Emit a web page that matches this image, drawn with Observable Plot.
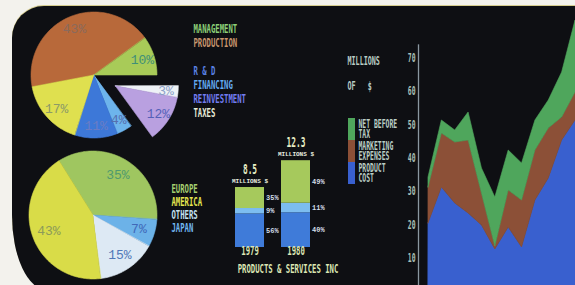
<!DOCTYPE html>
<html>
<head>
<meta charset="utf-8">
<script src="https://cdn.jsdelivr.net/npm/d3@7"></script>
<script src="https://cdn.jsdelivr.net/npm/@observablehq/plot@0.6"></script>
<style>
  html, body { margin: 0; padding: 0; width: 575px; height: 285px; overflow: hidden; background: #f3f2ed; }
  #screen { position: absolute; left: 12px; top: 6px; width: 700px; height: 284px; background: #0e0f13;
            border-radius: 32px 0 0 35px / 32px 0 0 75px; box-shadow: 0 -1px 0 #d6cd8e; }
  .panel { position: absolute; }
  .panel svg { overflow: visible; background: transparent !important; }
</style>
</head>
<body>
<div id="screen"></div>
<div class="panel" id="pieTop" style="left:20px;top:8px"></div>
<div class="panel" id="legendTop" style="left:193px;top:15px"></div>
<div class="panel" id="pieBottom" style="left:20px;top:145px"></div>
<div class="panel" id="legendBottom" style="left:171px;top:175px"></div>
<div class="panel" id="bars" style="left:200px;top:130px"></div>
<div class="panel" id="areaPanel" style="left:340px;top:0px"></div>
<div class="panel" id="areaLegend" style="left:340px;top:110px"></div>
<script>
// ---------------- DATA ----------------
// Top pie: cost breakdown (clockwise order as drawn)
const costCategories = ["PRODUCTION", "MANAGEMENT", "TAXES", "REINVESTMENT", "FINANCING", "R & D", "OTHER"];
const costShares     = [43, 10, 3, 12, 4, 11, 17];
const costExploded   = ["TAXES", "REINVESTMENT"];
const costLegend     = ["MANAGEMENT", "PRODUCTION", " ", "R & D", "FINANCING", "REINVESTMENT", "TAXES"];

// Bottom pie: sales by region (clockwise order as drawn)
const marketRegions = ["EUROPE", "JAPAN", "OTHERS", "AMERICA"];
const marketShares  = [35, 7, 15, 43];
const marketLegend  = ["EUROPE", "AMERICA", "OTHERS", "JAPAN"];

// Stacked bars
const barYears       = ["1979", "1980"];
const barTotals      = [8.5, 12.3];
const barSegments    = ["BASE", "MIDDLE", "TOP"];
const barShares1979  = [56, 9, 35];
const barShares1980  = [40, 11, 49];
const barTotalUnit   = "MILLIONS $";
const chartTitle     = "PRODUCTS & SERVICES INC";

// Stacked area (millions of $)
const areaSeries        = ["PRODUCT COST", "MARKETING EXPENSES", "NET BEFORE TAX"];
const productCost       = [20.4, 31.2, 26.4, 23.4, 19.8, 12.6, 19.2, 13.2, 27.3, 33.9, 45.3, 51.3];
const marketingExpenses = [10.8, 16.2, 18.3, 21.9,  9.6,  0.9, 11.1, 14.1, 15.0, 15.0,  6.9,  8.4];
const netBeforeTax      = [ 3.0,  3.9,  3.6,  8.4,  7.5, 14.7, 12.0, 11.1,  9.0,  8.4, 13.5, 21.6];
const axisTicks = [10, 20, 30, 40, 50, 60, 70];
const axisTitle = ["MILLIONS", "OF   $"];

// ---------------- STYLE ----------------
const costColor = {PRODUCTION: "#b8693a", MANAGEMENT: "#a8cb58", TAXES: "#eef2f6", REINVESTMENT: "#b9a0e0",
                   FINANCING: "#6db4ec", "R & D": "#3d78d8", OTHER: "#dfe04f"};
const costLabelColor = {PRODUCTION: "#8a6a5c", MANAGEMENT: "#3f8f78", TAXES: "#8aa0c8", REINVESTMENT: "#5560b8",
                        FINANCING: "#5570b0", "R & D": "#6a7cc4", OTHER: "#8c9a68"};
const costLegendColor = {MANAGEMENT: "#8ccf78", PRODUCTION: "#c8966e", "R & D": "#5a82e6", FINANCING: "#64aaf0",
                         REINVESTMENT: "#727cf0", TAXES: "#e8ecd8", " ": "none"};
const marketColor = {EUROPE: "#9fc660", JAPAN: "#6cb2e8", OTHERS: "#dde9f4", AMERICA: "#d9dc48"};
const marketLabelColor = {EUROPE: "#4f9a6e", JAPAN: "#4068b8", OTHERS: "#5078b8", AMERICA: "#8c9a5a"};
const marketLegendColor = {EUROPE: "#a4d070", AMERICA: "#e4e650", OTHERS: "#c4e2f2", JAPAN: "#70b6f0"};
const segColor = {BASE: "#3f7bd9", MIDDLE: "#7cbdf0", TOP: "#a6c95c"};
const areaColor = {"PRODUCT COST": "#3960cf", "MARKETING EXPENSES": "#8c5037", "NET BEFORE TAX": "#4fa65c"};
const legendTextColor = "#b9ccc4";
const COND = "DejaVu Sans Mono";

// narrow the blocky terminal lettering horizontally, around each text's anchor point
function condense(svg, k = 0.56) {
  svg.querySelectorAll(`g[font-family="${COND}"] text`).forEach(t => {
    const tr = t.getAttribute("transform");
    if (tr) t.setAttribute("transform", tr + ` scale(${k},1)`);
    else {
      const x = +(t.getAttribute("x") || 0), y = +(t.getAttribute("y") || 0);
      t.removeAttribute("x"); t.removeAttribute("y");
      t.setAttribute("transform", `translate(${x},${y}) scale(${k},1)`);
    }
  });
  return svg;
}
function put(id, svg) { document.getElementById(id).append(condense(svg)); }

// ---------------- PIE HELPER ----------------
function pieData(names, values, startDeg, exploded, explodeDist, labelR) {
  const total = d3.sum(values);
  let a = startDeg;
  const wedges = names.map((name, i) => {
    const a0 = a; a += values[i] / total * 360;
    return {name, value: values[i], a0, a1: a, mid: (a0 + a) / 2};
  });
  const ex = wedges.filter(w => exploded.includes(w.name));
  let ox = 0, oy = 0;
  if (ex.length) {
    const m = (d3.min(ex, w => w.a0) + d3.max(ex, w => w.a1)) / 2 * Math.PI / 180;
    ox = explodeDist * Math.sin(m); oy = explodeDist * Math.cos(m);
  }
  const rows = [], labels = [];
  for (const w of wedges) {
    const cx = exploded.includes(w.name) ? ox : 0, cy = exploded.includes(w.name) ? oy : 0;
    const n = Math.max(2, Math.ceil((w.a1 - w.a0) / 1.5));
    for (let k = 0; k <= n; k++) {
      const t = (w.a0 + (w.a1 - w.a0) * k / n) * Math.PI / 180;
      rows.push({name: w.name, x1: cx, y1: cy, x2: cx + Math.sin(t), y2: cy + Math.cos(t)});
    }
    const tm = w.mid * Math.PI / 180;
    labels.push({name: w.name, text: w.value + "%", x: cx + labelR * Math.sin(tm), y: cy + labelR * Math.cos(tm)});
  }
  return {rows, labels};
}

function piePlot(pd, colors, labelColors, W, H, cx, cy, R) {
  return Plot.plot({
    width: W, height: H, margin: 0,
    style: {background: "transparent", overflow: "visible"},
    x: {domain: [-cx / R, (W - cx) / R], axis: null},
    y: {domain: [-(H - cy) / R, cy / R], axis: null},
    marks: [
      Plot.area(pd.rows, {x1: "x1", y1: "y1", x2: "x2", y2: "y2", z: "name",
        fill: d => colors[d.name], stroke: d => colors[d.name], strokeWidth: 0.6}),
      Plot.text(pd.labels, {x: "x", y: "y", text: "text", fill: d => labelColors[d.name],
        fontFamily: "Liberation Mono", fontSize: 13})
    ]
  });
}

function legendPlot(labels, colors, H, top, bottom, size) {
  return Plot.plot({
    width: 80, height: H, marginTop: top, marginBottom: bottom, marginLeft: 0, marginRight: 0,
    style: {background: "transparent", overflow: "visible"},
    x: {axis: null}, y: {type: "point", domain: labels, padding: 0, axis: null},
    marks: [
      Plot.text(labels, {y: d => d, text: d => d, frameAnchor: "left", textAnchor: "start",
        fill: d => colors[d], fontFamily: COND, fontWeight: "bold", fontSize: size})
    ]
  });
}

// ---------------- TOP PIE ----------------
const topPie = pieData(costCategories, costShares, -100.8, costExploded, 0.38, 0.8);
put("pieTop", piePlot(topPie, costColor, costLabelColor, 200, 140, 74, 67, 63));
put("legendTop", legendPlot(costLegend, costLegendColor, 110, 12, 12, 13));

// ---------------- BOTTOM PIE ----------------
const botPie = pieData(marketRegions, marketShares, -32, [], 0, 0.74);
put("pieBottom", piePlot(botPie, marketColor, marketLabelColor, 140, 140, 73, 70, 64));
put("legendBottom", legendPlot(marketLegend, marketLegendColor, 65, 12.5, 12.5, 13));

// ---------------- BARS ----------------
const barShares = [barShares1979, barShares1980];
const barRows = barYears.flatMap((year, j) => barSegments.map((seg, k) => ({
  year, seg, share: barShares[j][k], value: barTotals[j] * barShares[j][k] / 100
})));
const totalsRows = barYears.map((year, j) => ({year, total: barTotals[j]}));
put("bars", Plot.plot({
  width: 150, height: 155, marginLeft: 16.8, marginRight: 22.8, marginTop: 30.2, marginBottom: 38,
  style: {background: "transparent", overflow: "visible"},
  x: {type: "band", domain: barYears, padding: 0.375, axis: null},
  y: {domain: [0, d3.max(barTotals)], axis: null},
  marks: [
    Plot.barY(barRows, {x: "year", y: "value", fill: d => segColor[d.seg], inset: 0}),
    Plot.text(barRows, Plot.stackY({x: "year", y: "value", text: d => d.share + "%", dx: 16,
      textAnchor: "start", fill: "#d2dde6", fontFamily: "Liberation Mono", fontWeight: "bold", fontSize: 7})),
    Plot.text(totalsRows, {x: "year", y: "total", text: d => String(d.total), dy: -18,
      fill: "#e6ecc4", fontFamily: COND, fontWeight: "bold", fontSize: 14}),
    Plot.text(totalsRows, {x: "year", y: "total", text: () => barTotalUnit, dy: -6.5,
      fill: "#e8eee0", fontFamily: "Liberation Mono", fontWeight: "bold", fontSize: 6}),
    Plot.text(barYears, {x: d => d, frameAnchor: "bottom", dy: 7, text: d => d,
      fill: "#dce6b4", fontFamily: COND, fontWeight: "bold", fontSize: 13}),
    Plot.text([chartTitle], {frameAnchor: "bottom", dx: 15.5, dy: 25.5, text: d => d,
      fill: "#dce6b4", fontFamily: COND, fontWeight: "bold", fontSize: 13})
  ]
}));

// ---------------- STACKED AREA ----------------
const areaValues = [productCost, marketingExpenses, netBeforeTax];
const areaRows = areaSeries.flatMap((s, k) => areaValues[k].map((v, i) => ({series: s, i, v})));
put("areaPanel", Plot.plot({
  width: 235, height: 291, marginLeft: 88, marginRight: 0, marginTop: 0, marginBottom: 0,
  style: {background: "transparent", overflow: "visible"},
  x: {domain: [0, productCost.length - 1], axis: null},
  y: {domain: [0, 87.3], axis: null},
  marks: [
    Plot.areaY(areaRows, {x: "i", y: "v", z: "series", fill: d => areaColor[d.series],
      stroke: d => areaColor[d.series], strokeWidth: 0.6}),
    Plot.ruleX([0], {dx: -10, y1: 0, y2: 74, stroke: "#8a97a0", strokeWidth: 1.3}),
    Plot.text(axisTicks, {y: d => d, text: d => String(d), frameAnchor: "left", dx: -13,
      textAnchor: "end", fill: "#a9c0b8", fontFamily: COND, fontWeight: "bold", fontSize: 11.5}),
    Plot.text([axisTitle[0]], {frameAnchor: "top-left", dx: -81, dy: 56, textAnchor: "start", text: d => d,
      fill: legendTextColor, fontFamily: COND, fontWeight: "bold", fontSize: 12}),
    Plot.text([axisTitle[1]], {frameAnchor: "top-left", dx: -81, dy: 81, textAnchor: "start", text: d => d,
      fill: legendTextColor, fontFamily: COND, fontWeight: "bold", fontSize: 12})
  ]
}));

const legendOrder = areaSeries.slice().reverse();
put("areaLegend", Plot.plot({
  width: 90, height: 80, marginLeft: 8, marginRight: 75, marginTop: 7, marginBottom: 5,
  style: {background: "transparent", overflow: "visible"},
  x: {axis: null}, y: {type: "band", domain: legendOrder, padding: 0, axis: null},
  marks: [
    Plot.cell(legendOrder, {y: d => d, fill: d => areaColor[d]}),
    Plot.text(legendOrder, {y: d => d, text: d => d.replace(/ (\S+)$/, "\n$1"), frameAnchor: "right", dx: 3,
      textAnchor: "start", lineHeight: 0.92, fill: legendTextColor, fontFamily: COND, fontWeight: "bold", fontSize: 11.5})
  ]
}));
</script>
</body>
</html>
